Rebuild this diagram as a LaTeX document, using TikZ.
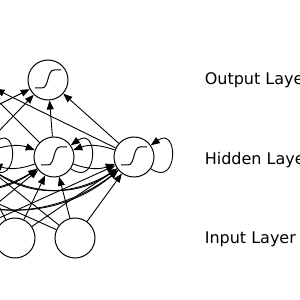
\documentclass[tikz,border=0pt]{standalone}
\usepackage{fontspec}
\setsansfont{DejaVu Sans}
\usepackage{tikz}
\usetikzlibrary{automata, positioning, arrows.meta}

\begin{document}
\begin{tikzpicture}[x=1pt, y=1pt, line width=0.9pt,
    >={Triangle[length=9pt,width=7pt]},
    every state/.style={draw, minimum size=40pt, line width=1pt},
    sig/.style={path picture={\draw[line width=1pt, shift={(path picture bounding box.center)}]
        (-13,-8) -- (-6,-8) .. controls (1,-8) and (-1,10) .. (6,10) -- (13,10);}},
    self/.style={out=-35, in=35, min distance=34pt},
    lbl/.style={anchor=base west, font=\sffamily\fontsize{16}{18}\selectfont}]

    \useasboundingbox (0,0) rectangle (300,300);
    \clip (0,0) rectangle (300,300);

        % input layer
        \node[state] (i2) at (15,62) {};
        \node[state, left=19of i2] (i1) {};
        \node[state, right=19of i2] (i3) {};

        % hidden layer
        \node[state, sig] (h3) at (54,143) {};
        \node[state, sig, left=39of h3] (h2) {};
        \node[state, sig, left=39of h2] (h1) {};
        \node[state, sig, right=39of h3] (h4) {};

        % output layer
        \node[state, sig] (o2) at (48,220) {};
        \node[state, sig, left=30of o2] (o1) {};

        \node[lbl] (tout) at (201,215) {Output Layer};
        \node[lbl] (thid) at (201,135) {Hidden Layer};
        \node[lbl] (tinp) at (201,56) {Input Layer};

        \path[->]
        (i1) edge (h1) (i1) edge (h2) (i1) edge (h3) (i1) edge (h4)
        (i2) edge (h1) (i2) edge (h2) (i2) edge (h3) (i2) edge (h4)
        (i3) edge (h1) (i3) edge (h2) (i3) edge (h3) (i3) edge (h4)
        (h1) edge (o1) (h2) edge (o1) (h3) edge (o1) (h4) edge (o1)
        (h1) edge (o2) (h2) edge (o2) (h3) edge (o2) (h4) edge (o2)
        (h1) edge[bend right=20] (h2)
        (h2) edge[bend right=20] (h1)
        (h2) edge[bend left=20] (h3)
        (h3) edge[bend left=20] (h2)
        (h3) edge[bend right=20] (h4)
        (h4) edge[bend right=20] (h3)
        (h1) edge[bend right=35] (h3)
        (h3) edge[bend left=35] (h1)
        (h2) edge[bend right=35] (h4)
        (h4) edge[bend left=35] (h2)
        (h1) edge[bend right=40] (h4)
        (h4) edge[bend left=40] (h1)
        (h1) edge[self] (h1)
        (h2) edge[self] (h2)
        (h3) edge[self] (h3)
        (h4) edge[self] (h4);

\end{tikzpicture}
\end{document}
